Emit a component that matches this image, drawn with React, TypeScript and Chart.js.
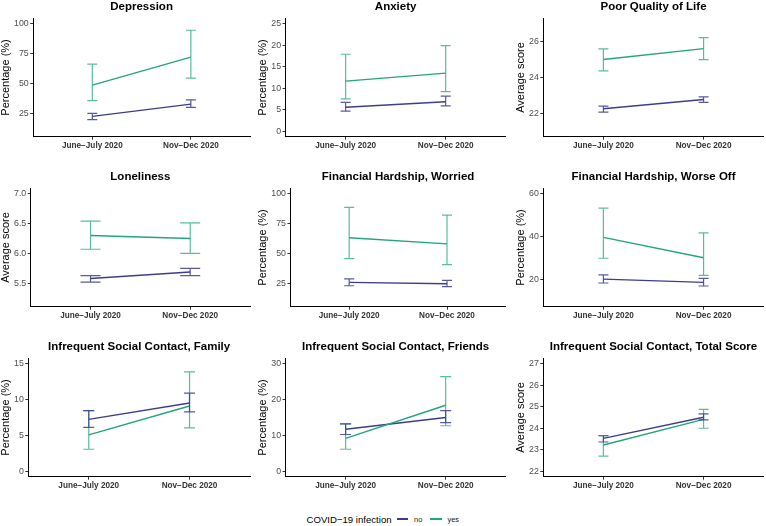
import React, { useEffect, useRef } from "react";
import { Chart, registerables } from "chart.js";

Chart.register(...registerables);

if (typeof document !== "undefined") document.body.style.margin = "0";

const FONT = "'Liberation Sans', Arial, Helvetica, sans-serif";
Chart.defaults.font.family = FONT;

// ---------- data ----------
const periods = ["June\u2212July 2020", "Nov\u2212Dec 2020"];
const groups = ["no", "yes"];
const legendTitle = "COVID\u221219 infection";

const depressionNo = [22.5, 32.7];
const depressionNoCI = [[19.7, 25.0], [30.0, 36.2]];
const depressionYes = [48.6, 72.0];
const depressionYesCI = [[35.7, 66.2], [54.4, 94.5]];
const depressionTicks = [25, 50, 75, 100];

const anxietyNo = [5.57, 6.86];
const anxietyNoCI = [[4.66, 6.7], [5.88, 8.16]];
const anxietyYes = [11.66, 13.5];
const anxietyYesCI = [[7.55, 17.9], [9.2, 19.9]];
const anxietyTicks = [0, 5, 10, 15, 20, 25];

const qolNo = [22.26, 22.77];
const qolNoCI = [[22.07, 22.4], [22.61, 22.92]];
const qolYes = [25.0, 25.61];
const qolYesCI = [[24.37, 25.6], [25.0, 26.22]];
const qolTicks = [22, 24, 26];

const lonelinessNo = [5.58, 5.69];
const lonelinessNoCI = [[5.52, 5.63], [5.63, 5.75]];
const lonelinessYes = [6.3, 6.25];
const lonelinessYesCI = [[6.07, 6.54], [6.0, 6.51]];
const lonelinessTicks = [5.5, 6.0, 6.5, 7.0];

const worriedNo = [25.8, 24.7];
const worriedNoCI = [[23.0, 28.8], [22.2, 27.5]];
const worriedYes = [63.2, 58.0];
const worriedYesCI = [[45.6, 88.5], [40.6, 82.1]];
const worriedTicks = [25, 50, 75, 100];

const worseNo = [20.3, 18.8];
const worseNoCI = [[18.5, 22.3], [17.1, 20.6]];
const worseYes = [39.7, 30.2];
const worseYesCI = [[30.0, 53.3], [22.0, 41.8]];
const worseTicks = [20, 40, 60];

const familyNo = [7.23, 9.52];
const familyNoCI = [[6.13, 8.46], [8.28, 10.9]];
const familyYes = [5.08, 9.1];
const familyYesCI = [[3.07, 8.46], [6.04, 13.85]];
const familyTicks = [0, 5, 10, 15];

const friendsNo = [11.7, 15.0];
const friendsNoCI = [[10.25, 13.2], [13.55, 16.9]];
const friendsYes = [9.16, 18.4];
const friendsYesCI = [[6.14, 13.2], [12.7, 26.4]];
const friendsTicks = [0, 10, 20, 30];

const totalNo = [23.53, 24.51];
const totalNoCI = [[23.36, 23.65], [24.39, 24.67]];
const totalYes = [23.22, 24.41];
const totalYesCI = [[22.7, 23.65], [24.0, 24.88]];
const totalTicks = [22, 23, 24, 25, 26, 27];

// ---------- styling ----------
const COLOR_NO = "#3D3C8D";
const COLOR_YES = "#22A57F";
const ERR_NO = "rgba(61,60,141,0.85)";
const ERR_YES = "rgba(34,165,127,0.75)";

const PCT = "Percentage (%)";
const AVG = "Average score";

type Panel = {
  title: string;
  yLabel: string;
  no: number[];
  noCI: number[][];
  yes: number[];
  yesCI: number[][];
  ticks: number[];
  limits: [number, number];
  decimals: number;
  cap: number;
};

const panels: Panel[] = [
  { title: "Depression", yLabel: PCT, no: depressionNo, noCI: depressionNoCI, yes: depressionYes, yesCI: depressionYesCI, ticks: depressionTicks, limits: [10, 100], decimals: 0, cap: 5 },
  { title: "Anxiety", yLabel: PCT, no: anxietyNo, noCI: anxietyNoCI, yes: anxietyYes, yesCI: anxietyYesCI, ticks: anxietyTicks, limits: [0, 25], decimals: 0, cap: 5 },
  { title: "Poor Quality of Life", yLabel: AVG, no: qolNo, noCI: qolNoCI, yes: qolYes, yesCI: qolYesCI, ticks: qolTicks, limits: [21, 27], decimals: 0, cap: 5 },
  { title: "Loneliness", yLabel: AVG, no: lonelinessNo, noCI: lonelinessNoCI, yes: lonelinessYes, yesCI: lonelinessYesCI, ticks: lonelinessTicks, limits: [5.2, 7.0], decimals: 1, cap: 10 },
  { title: "Financial Hardship, Worried", yLabel: PCT, no: worriedNo, noCI: worriedNoCI, yes: worriedYes, yesCI: worriedYesCI, ticks: worriedTicks, limits: [10, 100], decimals: 0, cap: 5 },
  { title: "Financial Hardship, Worse Off", yLabel: PCT, no: worseNo, noCI: worseNoCI, yes: worseYes, yesCI: worseYesCI, ticks: worseTicks, limits: [10, 60], decimals: 0, cap: 5 },
  { title: "Infrequent Social Contact, Family", yLabel: PCT, no: familyNo, noCI: familyNoCI, yes: familyYes, yesCI: familyYesCI, ticks: familyTicks, limits: [0, 15], decimals: 0, cap: 5.5 },
  { title: "Infrequent Social Contact, Friends", yLabel: PCT, no: friendsNo, noCI: friendsNoCI, yes: friendsYes, yesCI: friendsYesCI, ticks: friendsTicks, limits: [0, 30], decimals: 0, cap: 5.5 },
  { title: "Infrequent Social Contact, Total Score", yLabel: AVG, no: totalNo, noCI: totalNoCI, yes: totalYes, yesCI: totalYesCI, ticks: totalTicks, limits: [22, 27], decimals: 0, cap: 5 },
];

const COL_LEFT = [0, 255, 510];
const COL_WIDTH = [255, 255, 256];
const PAD_LEFT = [0.5, 2.8, 5.5];
const PAD_RIGHT = [5, 4.3, 2.3];
const ROW_TOP = [0, 170, 340];
const ROW_HEIGHT = 170;

const errorBarPlugin = {
  id: "errorBars",
  afterDatasetsDraw(chart: any, _args: any, opts: any) {
    const ctx = chart.ctx as CanvasRenderingContext2D;
    const xs = chart.scales.x;
    const ys = chart.scales.y;
    const half = opts.cap || 5;
    const order = [1, 0];
    for (const di of order) {
      const ds = chart.data.datasets[di];
      if (!ds) continue;
      ctx.save();
      ctx.strokeStyle = ds.errColor;
      ctx.lineWidth = 1.2;
      ds.data.forEach((p: any, j: number) => {
        const x = xs.getPixelForValue(p.x);
        const y1 = ys.getPixelForValue(ds.ci[j][0]);
        const y2 = ys.getPixelForValue(ds.ci[j][1]);
        ctx.beginPath();
        ctx.moveTo(x, y1);
        ctx.lineTo(x, y2);
        ctx.moveTo(x - half, y1);
        ctx.lineTo(x + half, y1);
        ctx.moveTo(x - half, y2);
        ctx.lineTo(x + half, y2);
        ctx.stroke();
      });
      ctx.restore();
    }
  },
};

// Title centred over the plotting panel (as ggplot does), not the whole canvas
const panelTitlePlugin = {
  id: "panelTitle",
  afterDraw(chart: any, _args: any, opts: any) {
    const ctx = chart.ctx as CanvasRenderingContext2D;
    const { left, right } = chart.chartArea;
    ctx.save();
    ctx.font = `bold 11.5px ${FONT}`;
    ctx.fillStyle = "#000";
    ctx.textAlign = "center";
    ctx.textBaseline = "alphabetic";
    ctx.fillText(opts.text, (left + right) / 2, 10.4);
    ctx.restore();
  },
};

function PanelChart({ p, col }: { p: Panel; col: number }) {
  const ref = useRef<HTMLCanvasElement | null>(null);
  useEffect(() => {
    if (!ref.current) return;
    const span = p.limits[1] - p.limits[0];
    const yMin = p.limits[0] - span * 0.05;
    const yMax = p.limits[1] + span * 0.05;
    const chart = new Chart(ref.current, {
      type: "line",
      data: {
        datasets: [
          {
            label: groups[0],
            data: p.no.map((v, i) => ({ x: i, y: v })),
            borderColor: COLOR_NO,
            backgroundColor: COLOR_NO,
            borderWidth: 1.4,
            pointRadius: 0,
            fill: false,
            tension: 0,
            order: 1,
            ci: p.noCI,
            errColor: ERR_NO,
          } as any,
          {
            label: groups[1],
            data: p.yes.map((v, i) => ({ x: i, y: v })),
            borderColor: COLOR_YES,
            backgroundColor: COLOR_YES,
            borderWidth: 1.4,
            pointRadius: 0,
            fill: false,
            tension: 0,
            order: 0,
            ci: p.yesCI,
            errColor: ERR_YES,
          } as any,
        ],
      },
      options: {
        animation: false,
        responsive: true,
        maintainAspectRatio: false,
        events: [],
        layout: {
          padding: { left: PAD_LEFT[col], right: PAD_RIGHT[col], top: 18.3, bottom: 17.5 },
        },
        plugins: {
          legend: { display: false },
          tooltip: { enabled: false },
          title: { display: false },
          panelTitle: { text: p.title },
          errorBars: { cap: p.cap },
        } as any,
        scales: {
          x: {
            type: "linear",
            min: -0.6,
            max: 1.6,
            afterBuildTicks: (axis: any) => {
              axis.ticks = periods.map((_, i) => ({ value: i }));
            },
            ticks: {
              callback: (v: any) => periods[Math.round(Number(v))] ?? "",
              color: "#333",
              font: { size: 8.2, weight: "bold", family: FONT },
              padding: 1.5,
              maxRotation: 0,
              autoSkip: false,
            },
            grid: {
              display: true,
              drawOnChartArea: false,
              drawTicks: true,
              tickLength: 3,
              tickColor: "#333",
              lineWidth: 1,
            },
            border: { display: true, color: "#000", width: 1 },
          },
          y: {
            type: "linear",
            min: yMin,
            max: yMax,
            afterBuildTicks: (axis: any) => {
              axis.ticks = p.ticks.map((v) => ({ value: v }));
            },
            ticks: {
              callback: (v: any) => Number(v).toFixed(p.decimals),
              color: "#4D4D4D",
              font: { size: 8.8, family: FONT },
              padding: 1.5,
              autoSkip: false,
            },
            grid: {
              display: true,
              drawOnChartArea: false,
              drawTicks: true,
              tickLength: 3,
              tickColor: "#333",
              lineWidth: 1,
            },
            border: { display: true, color: "#000", width: 1 },
            title: {
              display: true,
              text: p.yLabel,
              color: "#000",
              font: { size: 11, family: FONT, lineHeight: 1 },
              padding: { top: 0, bottom: 1 },
            },
          },
        },
      } as any,
      plugins: [errorBarPlugin as any, panelTitlePlugin as any],
    });
    return () => chart.destroy();
  }, [p, col]);
  return <canvas ref={ref} />;
}

export default function App() {
  return (
    <div style={{ position: "relative", width: 766, height: 526, background: "#fff", fontFamily: FONT, overflow: "hidden" }}>
      {panels.map((p, i) => {
        const col = i % 3;
        const row = Math.floor(i / 3);
        return (
          <div
            key={p.title}
            style={{ position: "absolute", left: COL_LEFT[col], top: ROW_TOP[row], width: COL_WIDTH[col], height: ROW_HEIGHT }}
          >
            <PanelChart p={p} col={col} />
          </div>
        );
      })}
      <div
        style={{
          position: "absolute",
          left: 306.5,
          top: 511,
          height: 16,
          display: "flex",
          alignItems: "center",
          whiteSpace: "nowrap",
          color: "#000",
        }}
      >
        <span style={{ fontSize: 9.6, marginRight: 5 }}>{legendTitle}</span>
        <span style={{ display: "inline-block", width: 11.5, height: 1.4, background: COLOR_NO, marginRight: 6 }} />
        <span style={{ fontSize: 7.5, marginRight: 8, color: "#222" }}>{groups[0]}</span>
        <span style={{ display: "inline-block", width: 11.5, height: 1.4, background: COLOR_YES, marginRight: 5.5 }} />
        <span style={{ fontSize: 7.5, color: "#222" }}>{groups[1]}</span>
      </div>
    </div>
  );
}
